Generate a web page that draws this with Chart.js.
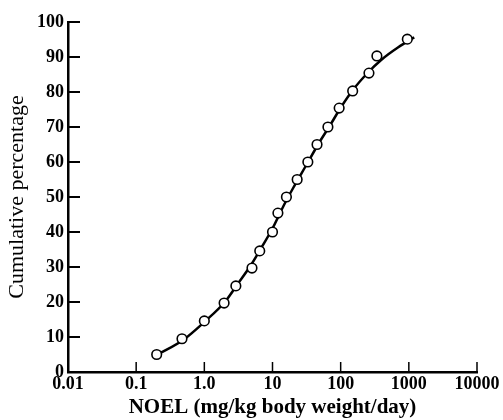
<!DOCTYPE html>
<html>
<head>
<meta charset="utf-8">
<script src="https://cdn.jsdelivr.net/npm/chart.js@4/dist/chart.umd.min.js"></script>
<style>
html,body{margin:0;padding:0;background:#fff;}
#wrap{width:503px;height:420px;}
</style>
</head>
<body>
<div id="wrap"><canvas id="c" width="503" height="420"></canvas></div>
<script>
// Observed data points (NOEL, cumulative %)
const noelValues = [0.2, 0.47, 1.0, 1.95, 2.9, 5.0, 6.5, 10, 12, 16, 23, 33, 45, 65, 95, 150, 260, 340, 950];
const cumulativePct = [5, 9.5, 14.6, 19.7, 24.6, 29.7, 34.6, 40, 45.4, 50, 55, 60, 65, 70, 75.4, 80.3, 85.4, 90.3, 95.1];
// Fitted smooth curve
const curveX = [0.2, 0.5, 1, 2, 3, 5, 7, 10, 15, 20, 30, 50, 70, 100, 150, 250, 400, 700, 1200];
const curveY = [4.8, 9.3, 14.3, 20, 24.8, 31, 35.8, 41, 48, 52.5, 58.5, 66, 70.5, 75.5, 80.5, 85.5, 89.3, 92.8, 95.6];
// Axis ticks
const xTickValues = [0.01, 0.1, 1, 10, 100, 1000, 10000];
const xTickLabels = ['0.01', '0.1', '1.0', '10', '100', '1000', '10000'];
const yTickValues = [0, 10, 20, 30, 40, 50, 60, 70, 80, 90, 100];

const pts = noelValues.map((x, i) => ({x: x, y: cumulativePct[i]}));
const curve = curveX.map((x, i) => ({x: x, y: curveY[i]}));

const FONT = '"Liberation Serif", "Times New Roman", serif';

const innerTicks = {
  id: 'innerTicks',
  afterDraw(chart) {
    const ctx = chart.ctx;
    const xs = chart.scales.x, ys = chart.scales.y;
    ctx.save();
    ctx.strokeStyle = '#000';
    ctx.lineWidth = 2;
    ys.ticks.forEach(t => {
      const py = ys.getPixelForValue(t.value);
      ctx.beginPath();
      ctx.moveTo(xs.left, py);
      ctx.lineTo(xs.left + 12, py);
      ctx.stroke();
    });
    ctx.lineWidth = 1.5;
    xs.ticks.forEach(t => {
      const px = xs.getPixelForValue(t.value);
      ctx.beginPath();
      ctx.moveTo(px, ys.bottom);
      ctx.lineTo(px, ys.bottom - 10);
      ctx.stroke();
    });
    ctx.restore();
  }
};

new Chart(document.getElementById('c'), {
  type: 'scatter',
  data: {
    datasets: [
      {
        data: curve,
        showLine: true,
        borderColor: '#000',
        borderWidth: 2.5,
        pointRadius: 0,
        cubicInterpolationMode: 'monotone',
        fill: false,
        order: 2
      },
      {
        data: pts,
        showLine: false,
        pointRadius: 4.8,
        pointBackgroundColor: '#fff',
        pointBorderColor: '#000',
        pointBorderWidth: 1.6,
        order: 1
      }
    ]
  },
  options: {
    responsive: false,
    animation: false,
    devicePixelRatio: 1,
    layout: {padding: {top: 22, right: 26, left: 0, bottom: 0}},
    plugins: {legend: {display: false}, tooltip: {enabled: false}},
    scales: {
      x: {
        type: 'logarithmic',
        min: 0.01,
        max: 10000,
        afterBuildTicks(scale) { scale.ticks = xTickValues.map(v => ({value: v})); },
        afterFit(scale) { scale.height = 48; },
        grid: {display: false, drawTicks: false, tickLength: 0},
        border: {display: true, color: '#000', width: 2.5},
        ticks: {
          autoSkip: false,
          maxRotation: 0,
          padding: 2,
          color: '#000',
          font: {family: FONT, size: 18, weight: 'bold'},
          callback(value) {
            const i = xTickValues.findIndex(v => Math.abs(v - value) / v < 1e-6);
            return i >= 0 ? xTickLabels[i] : '';
          }
        },
        title: {
          display: true,
          text: 'NOEL (mg/kg body weight/day)',
          color: '#000',
          font: {family: FONT, size: 21, weight: 'bold'},
          padding: {top: 0, bottom: 0}
        }
      },
      y: {
        type: 'linear',
        min: 0,
        max: 100,
        afterBuildTicks(scale) { scale.ticks = yTickValues.map(v => ({value: v})); },
        afterFit(scale) { scale.width = 68; },
        grid: {display: false, drawTicks: false, tickLength: 0},
        border: {display: true, color: '#000', width: 2.5},
        ticks: {
          autoSkip: false,
          padding: 4,
          color: '#000',
          font: {family: FONT, size: 18, weight: 'bold'}
        },
        title: {
          display: true,
          text: 'Cumulative percentage',
          color: '#000',
          font: {family: FONT, size: 22},
          padding: {top: 4, bottom: 4}
        }
      }
    }
  },
  plugins: [innerTicks]
});
</script>
</body>
</html>
